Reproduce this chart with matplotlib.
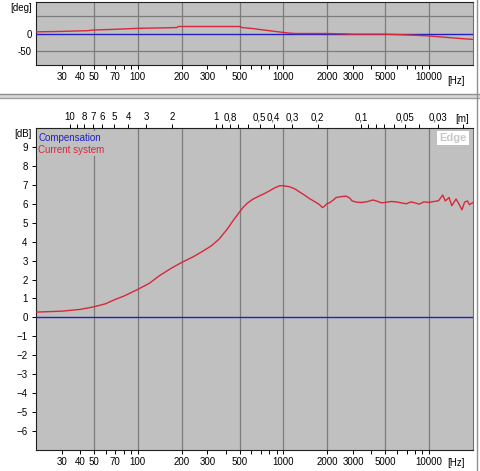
import matplotlib
matplotlib.use('Agg')
import matplotlib.pyplot as plt
from matplotlib.lines import Line2D
from matplotlib.patches import Rectangle
import numpy as np

plt.rcParams['font.family'] = ['Liberation Sans', 'DejaVu Sans']
plt.rcParams['font.size'] = 7

# phase panel data (deg)
phase_freq = [20, 30, 45, 50, 70, 100, 150, 185, 190, 300, 500, 520, 620, 700, 800, 1000,
              1100, 1200, 1500, 2000, 2500, 3000, 5000, 7000, 10000, 15000, 20000]
phase_curr = [4.7, 6, 8, 10, 12, 14.8, 16, 17, 20, 20, 20, 17, 14, 11, 8, 3,
              1, 0, 0, 0, -1, -2, -2, -4, -7, -13, -17]

# magnitude panel data (dB)
mag_freq = [20, 30, 40, 50, 60, 70, 80, 100, 120, 140, 170, 200, 240, 280, 320, 360, 410, 450,
            500, 530, 560, 585, 620, 685, 750, 800, 870, 940, 1000, 1100, 1200, 1290, 1400,
            1510, 1650, 1770, 1850, 1900, 2000, 2070, 2200, 2300, 2500, 2700, 2850, 2960,
            3200, 3470, 3800, 4100, 4340, 4700, 5070, 5500, 5940, 6400, 6960, 7500, 8000,
            8540, 9200, 10000, 10800, 11600, 12400, 12900, 13700, 14300, 15300, 16000,
            16800, 17500, 18300, 18900, 20000]
mag_curr = [0.28, 0.33, 0.42, 0.56, 0.72, 0.95, 1.12, 1.48, 1.8, 2.19, 2.6, 2.9, 3.2, 3.5, 3.78,
            4.12, 4.65, 5.1, 5.57, 5.82, 6.0, 6.12, 6.25, 6.42, 6.56, 6.68, 6.84, 6.95, 6.95,
            6.9, 6.78, 6.62, 6.45, 6.27, 6.1, 5.95, 5.8, 5.85, 6.02, 6.05, 6.2, 6.33, 6.38,
            6.4, 6.3, 6.15, 6.08, 6.07, 6.12, 6.2, 6.15, 6.05, 6.08, 6.12, 6.1, 6.05, 6.0,
            6.1, 6.05, 5.98, 6.1, 6.07, 6.12, 6.16, 6.46, 6.15, 6.33, 5.9, 6.25, 6.0, 5.68,
            6.08, 6.15, 5.95, 6.07]

hz_major = [30, 40, 50, 70, 100, 200, 300, 500, 1000, 2000, 3000, 5000, 10000]
hz_minor = [60, 80, 90, 400, 600, 700, 800, 900, 4000, 6000, 7000, 8000, 9000]
hz_grid = [50, 100, 200, 500, 1000, 2000, 5000, 10000]
m_major = [10, 8, 7, 6, 5, 4, 3, 2, 1, 0.8, 0.5, 0.4, 0.3, 0.2, 0.1, 0.05, 0.03]
m_labels = ['10', '8', '7', '6', '5', '4', '3', '2', '1', '0,8', '0,5', '0,4', '0,3',
            '0,2', '0,1', '0,05', '0,03']
m_minor = [9, 0.9, 0.7, 0.6, 0.09, 0.08, 0.07, 0.06, 0.04, 0.02]
c_sound = 343.0

bg = '#c0c0c0'
grid_c = '#7c7c7c'
red = '#d8283a'
blue = '#2020c8'

fig = plt.figure(figsize=(4.8, 4.71), dpi=100)
W, H = 480, 471


def box(x0, y0, x1, y1):
    return [x0 / W, 1 - y1 / H, (x1 - x0) / W, (y1 - y0) / H]


def style(ax):
    ax.set_facecolor(bg)
    ax.set_xscale('log')
    ax.set_xlim(20, 20000)
    for s in ax.spines.values():
        s.set_color('#202020')
        s.set_linewidth(0.8)
    ax.spines['right'].set_color('#707070')
    for f in hz_grid:
        ax.axvline(f, color=grid_c, lw=0.9, zorder=1)
    ax.set_xticks(hz_major, [str(v) for v in hz_major])
    ax.set_xticks(hz_minor, minor=True)
    ax.tick_params(axis='x', which='both', length=3, width=0.7, pad=2, labelsize=7)
    ax.tick_params(axis='y', length=3, width=0.7, pad=3, labelsize=7)


# top: phase
ax1 = fig.add_axes(box(36, 2, 473, 65))
style(ax1)
ax1.set_ylim(-90, 90)
for v in [-50, 50]:
    ax1.axhline(v, color=grid_c, lw=0.9, zorder=1)
ax1.plot(phase_freq, [0] * len(phase_freq), color=blue, lw=1, zorder=3)
ax1.plot(phase_freq, phase_curr, color=red, lw=1, zorder=4)
ax1.set_yticks([-50, 0, 50], ['-50', '0', ''])
ax1.tick_params(axis='y', length=0)
ax1.text(-0.01, 0.9, '[deg]', transform=ax1.transAxes, ha='right', va='center', fontsize=7)
ax1.text(0.96, -0.17, '[Hz]', transform=ax1.transAxes, ha='center', va='top', fontsize=7)

# bottom: magnitude
ax = fig.add_axes(box(36, 128, 473, 450))
style(ax)
ax.set_ylim(-7, 10)
ax.plot(mag_freq, [0] * len(mag_freq), color=blue, lw=1, zorder=3)
ax.plot(mag_freq, mag_curr, color=red, lw=1, zorder=4)
ax.set_yticks(range(-6, 10))
ax.text(-0.01, 0.98, '[dB]', transform=ax.transAxes, ha='right', va='center', fontsize=7)
ax.text(0.96, -0.025, '[Hz]', transform=ax.transAxes, ha='center', va='top', fontsize=7)

ax.text(0.005, 0.985, 'Compensation', color=blue, transform=ax.transAxes, ha='left',
        va='top', fontsize=7, zorder=5,
        bbox=dict(facecolor=bg, edgecolor='none', pad=1))
ax.text(0.005, 0.948, 'Current system', color=red, transform=ax.transAxes, ha='left',
        va='top', fontsize=7, zorder=5,
        bbox=dict(facecolor=bg, edgecolor='none', pad=1))
ax.text(0.985, 0.985, 'Edge', color='#c8c8c8', transform=ax.transAxes, ha='right',
        va='top', fontsize=8, fontweight='bold', zorder=5,
        bbox=dict(facecolor='white', edgecolor='none', pad=1.5))

# wavelength axis on top
ax2 = ax.twiny()
ax2.set_xscale('log')
ax2.set_xlim(ax.get_xlim())
ax2.set_xticks([c_sound / l for l in m_major], m_labels)
ax2.set_xticks([c_sound / l for l in m_minor], minor=True)
ax2.tick_params(axis='x', which='both', length=3, width=0.7, pad=1, labelsize=7)
for s in ax2.spines.values():
    s.set_visible(False)
ax2.text(0.975, 1.012, '[m]', transform=ax.transAxes, ha='center', va='bottom', fontsize=7)

# window separator and border
fig.add_artist(Rectangle((0, 1 - 98 / H), 1, 4 / H, transform=fig.transFigure,
                         facecolor='#d8d8d8', edgecolor='none'))
fig.add_artist(Line2D([0, 1], [1 - 94 / H, 1 - 94 / H], color='#909090', lw=1))
fig.add_artist(Line2D([0, 1], [1 - 98 / H, 1 - 98 / H], color='#a0a0a0', lw=1))
fig.add_artist(Line2D([477 / W, 477 / W], [0, 1], color='#909090', lw=1))

fig.savefig('out.png', dpi=100, facecolor='white')
